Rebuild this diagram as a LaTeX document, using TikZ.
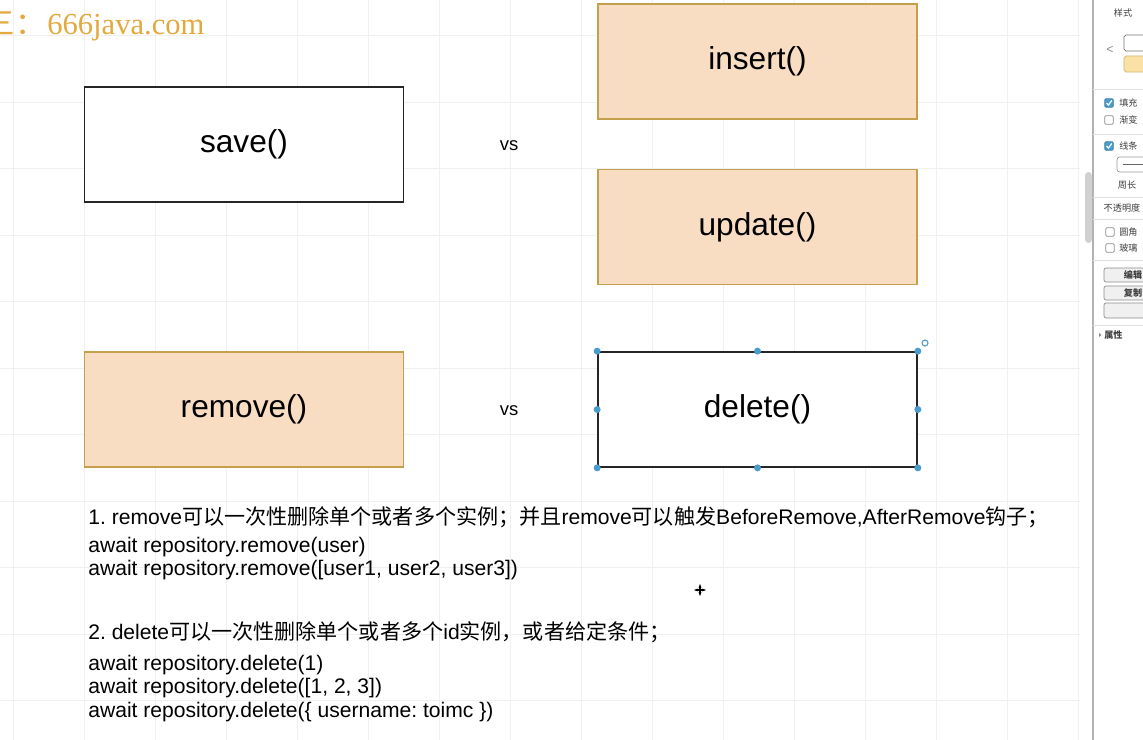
\documentclass[tikz,border=0pt]{standalone}
\usepackage{fontspec}
\setmainfont{Liberation Sans}
\newfontfamily\cjk{Noto Sans CJK SC}
\newfontfamily\wmserif{Liberation Serif}
\usetikzlibrary{arrows.meta, positioning, calc}
\frenchspacing
\definecolor{peach}{HTML}{F9DDC3}
\definecolor{peachline}{HTML}{C4A04C}
\definecolor{gridgray}{HTML}{F0F0F0}
\definecolor{handle}{HTML}{4A9CCD}
\definecolor{wmgold}{HTML}{E4A93E}
\tikzset{
  box/.style      = {draw=black!85, line width=1pt, fill=white, minimum width=6.38cm,
                     minimum height=2.3cm, font=\fontsize{18}{21}\selectfont},
  warm/.style     = {box, draw=peachline, fill=peach},
  vslab/.style    = {font=\fontsize{10.5}{12}\selectfont},
  body/.style     = {font=\fontsize{12}{14}\selectfont, anchor=base west, inner sep=0pt},
  hdl/.style      = {circle, fill=handle, inner sep=0pt, minimum size=0.14cm},
  paneltxt/.style = {font=\cjk\fontsize{5.2}{6}\selectfont, text=black!75, inner sep=0pt},
  chkon/.style    = {draw=handle!80!black, fill=handle, rounded corners=0.6pt,
                     minimum size=0.17cm, inner sep=0pt},
  chkoff/.style   = {draw=black!45, fill=white, rounded corners=0.6pt,
                     minimum size=0.17cm, inner sep=0pt},
  btn/.style      = {draw=black!45, fill=black!6, rounded corners=1.2pt},
  sep/.style      = {draw=black!12, line width=0.5pt},
}

\begin{document}
\begin{tikzpicture}[x=0.02cm, y=-0.02cm]
  \useasboundingbox (0,0) rectangle (1143,740);
  \clip (0,0) rectangle (1143,740);
  \fill[white] (0,0) rectangle (1143,740);

  % canvas grid
  \foreach \i in {0,...,15}
    \draw[gridgray, line width=0.5pt] (13+71*\i,0) -- (13+71*\i,740);
  \foreach \j in {0,...,10}
    \draw[gridgray, line width=0.5pt] (0,35.5+66.5*\j) -- (1080,35.5+66.5*\j);

  % watermark
  \node[text=wmgold, font=\wmserif\fontsize{17.4}{20}\selectfont, anchor=base west,
        inner sep=0pt] (wmsite) at (47,35) {666java.com};
  \node[text=wmgold, font=\cjk\fontsize{17.4}{20}\selectfont, anchor=base east,
        inner sep=0pt] (wmname) at (46,35) {三：};

  % method boxes
  \node[box]  (save)   at (244,144.5)   {save()};
  \node[warm] (insert) at (757.5,61.5)  {insert()};
  \node[warm] (update) at (757.5,227)   {update()};
  \node[warm] (remove) at (244,409.5)   {remove()};
  \node[box]  (del)    at (757.5,409.5) {delete()};
  \node[vslab] (vsa) at (509,146) {vs};
  \node[vslab] (vsb) at (509,411) {vs};

  % selection handles on delete()
  \foreach \a [count=\k] in {north west,north,north east,east,south east,south,south west,west}
    \node[hdl] (hd\k) at (del.\a) {};
  \node[circle, draw=handle, line width=0.6pt, inner sep=0pt, minimum size=0.12cm]
    (rot) at (925,343) {};

  % notes
  \node[body] (n1) at (88,524)
    {1. remove{\cjk 可以一次性删除单个或者多个实例；并且}remove{\cjk 可以触发}BeforeRemove,AfterRemove{\cjk 钩子；}};
  \node[body] (n1a) at (88,552) {await repository.remove(user)};
  \node[body] (n1b) at (88,575) {await repository.remove([user1, user2, user3])};
  \node[body] (n2) at (88,639)
    {2. delete{\cjk 可以一次性删除单个或者多个}id{\cjk 实例，或者给定条件；}};
  \node[body] (n2a) at (88,670) {await repository.delete(1)};
  \node[body] (n2b) at (88,693) {await repository.delete([1, 2, 3])};
  \node[body] (n2c) at (88,717) {await repository.delete(\{ username: toimc \})};

  % move cursor
  \coordinate (mv) at (700,590);
  \draw[{Stealth[length=2.2pt]}-{Stealth[length=2.2pt]}, line width=0.7pt]
    ($(mv)+(-6,0)$) -- ($(mv)+(6,0)$);
  \draw[{Stealth[length=2.2pt]}-{Stealth[length=2.2pt]}, line width=0.7pt]
    ($(mv)+(0,-6)$) -- ($(mv)+(0,6)$);

  % scrollbar and format panel
  \fill[black!18, rounded corners=2pt] (1085,172) rectangle (1092,243);
  \fill[white] (1093,0) rectangle (1143,740);
  \draw[black!30, line width=0.6pt] (1093,0) -- (1093,740);
  \foreach \y in {89,134,197,219,260,325}
    \draw[sep] (1093,\y) -- (1143,\y);

  \node[paneltxt] (tab) at (1123,13) {样式};
  \node[text=black!45, font=\fontsize{7}{8}\selectfont, inner sep=0pt] (prev) at (1110,50) {<};
  \draw[black!55, fill=white, rounded corners=1pt] (1124,35) rectangle (1150,51);
  \draw[peachline!80, fill=peach!85!yellow, rounded corners=1pt] (1124,56) rectangle (1150,72);

  \node[chkon]  (cfill) at (1109,103) {};
  \node[chkoff] (cgrad) at (1109,120) {};
  \node[chkon]  (cline) at (1109,146) {};
  \node[chkoff] (cround) at (1110,232) {};
  \node[chkoff] (cglass) at (1110,248) {};
  \foreach \c in {cfill,cline}
    \draw[white, line width=0.7pt] ($(\c.center)+(-2.5,0)$) -- ($(\c.center)+(-0.5,2)$)
      -- ($(\c.center)+(2.8,-2.5)$);
  \node[paneltxt, anchor=west] (tfill) at (1119,103) {填充};
  \node[paneltxt, anchor=west] (tgrad) at (1119,120) {渐变};
  \node[paneltxt, anchor=west] (tline) at (1119,146) {线条};
  \node[paneltxt, anchor=west] (tround) at (1119,232) {圆角};
  \node[paneltxt, anchor=west] (tglass) at (1119,248) {玻璃};

  \draw[black!40, fill=white, rounded corners=1.5pt] (1117,157) rectangle (1150,172);
  \draw[black!60, line width=0.4pt] (1123,164.5) -- (1143,164.5);
  \node[paneltxt] (tperim) at (1127,185) {周长};
  \node[paneltxt] (topac) at (1122,208) {不透明度};

  \draw[btn] (1104,268) rectangle (1150,282);
  \draw[btn] (1104,286) rectangle (1150,300);
  \draw[btn] (1104,303) rectangle (1150,318);
  \node[paneltxt, font=\cjk\bfseries\fontsize{5.2}{6}\selectfont] (bedit) at (1133,275) {编辑};
  \node[paneltxt, font=\cjk\bfseries\fontsize{5.2}{6}\selectfont] (bcopy) at (1133,293) {复制};

  \fill[black!45] (1099,333) -- (1101.5,335) -- (1099,337) -- cycle;
  \node[paneltxt, font=\cjk\bfseries\fontsize{5.2}{6}\selectfont, anchor=west] (tprop) at (1104,335) {属性};
\end{tikzpicture}
\end{document}
